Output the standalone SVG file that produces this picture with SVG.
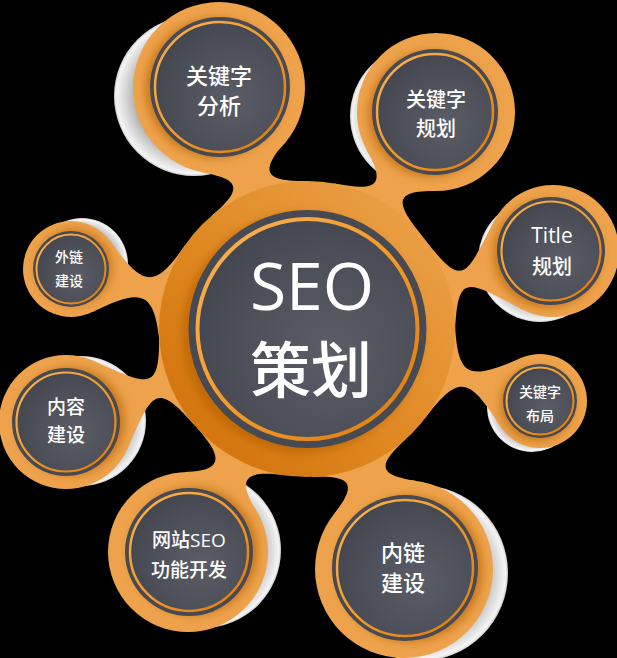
<svg xmlns="http://www.w3.org/2000/svg" width="617" height="658" viewBox="0 0 617 658">
<style>
.o{fill:#eda24b}
.sh{fill:#b25f06;opacity:.6}
.rim{fill:#474a52}
.in{fill:url(#gFill);stroke:url(#gRing)}
.wh{fill:url(#gWhite)}
.neck{fill:#eda24b}
text{fill:#ffffff;font-family:"Open Sans","Noto Sans CJK SC","Noto Sans",sans-serif;text-anchor:middle;font-weight:500}
text.cjk{font-family:"Noto Sans CJK SC","Noto Sans",sans-serif}
</style>
<defs>
<radialGradient id="gFill" cx="0.6" cy="0.6" r="0.65">
<stop offset="0" stop-color="#5a5d66"/>
<stop offset="0.7" stop-color="#4b4e57"/>
<stop offset="1" stop-color="#43464e"/>
</radialGradient>
<linearGradient id="gRing" x1="0" y1="0" x2="1" y2="1">
<stop offset="0" stop-color="#f8b458"/>
<stop offset="0.5" stop-color="#f39a2a"/>
<stop offset="1" stop-color="#dc7a0c"/>
</linearGradient>
<radialGradient id="gWhite" cx="0.5" cy="0.5" r="0.5">
<stop offset="0.6" stop-color="#8a8a8a"/>
<stop offset="0.86" stop-color="#d6d6d6"/>
<stop offset="0.97" stop-color="#f4f4f4"/>
<stop offset="1" stop-color="#cfcfcf"/>
</radialGradient>
<linearGradient id="gBig" x1="0" y1="1" x2="1" y2="0">
<stop offset="0" stop-color="#cf6d05"/>
<stop offset="0.45" stop-color="#df8822"/>
<stop offset="1" stop-color="#eea54f"/>
</linearGradient>
<filter id="soft" x="-20%" y="-20%" width="140%" height="140%">
<feGaussianBlur stdDeviation="4"/>
</filter>
</defs>
<rect width="617" height="658" fill="#000"/>

<g id="shadows">
<circle class="wh" cx="194" cy="96" r="80"/>
<circle class="wh" cx="421" cy="116" r="71"/>
<circle class="wh" cx="540" cy="260" r="62"/>
<circle class="wh" cx="532" cy="407" r="45"/>
<circle class="wh" cx="420" cy="573" r="88"/>
<circle class="wh" cx="203" cy="550" r="78"/>
<circle class="wh" cx="81" cy="421" r="65"/>
<circle class="wh" cx="82" cy="264" r="46"/>
</g>

<g id="connectors">
<path class="neck" transform="translate(307 329) rotate(-110.3)" d="M139.1,-50.6 C152.6,-13.4 162.6,-8.7 182.4,-43 L256.9,0 L182.4,43 C162.6,8.7 152.6,13.4 139.1,50.6 L0,0 Z"/>
<path class="neck" transform="translate(307 329) rotate(-59.3)" d="M139.1,-50.6 C153.3,-11.7 163.3,-3.6 184,-39.5 L252.4,0 L184,39.5 C163.3,3.6 153.3,11.7 139.1,50.6 L0,0 Z"/>
<path class="neck" transform="translate(307 329) rotate(-17.6)" d="M139.1,-50.6 C161.1,9.7 166,-1.3 211.4,-46.7 L258.1,0 L211.4,46.7 C166,1.3 161.1,-9.7 139.1,50.6 L0,0 Z"/>
<path class="neck" transform="translate(307 329) rotate(17.2)" d="M139.1,-50.6 C158.9,3.7 169.4,1.2 213.7,-36 L243.9,0 L213.7,36 C169.4,-1.2 158.9,-3.7 139.1,50.6 L0,0 Z"/>
<path class="neck" transform="translate(307 329) rotate(68)" d="M139.1,-50.6 C152.5,-13.8 162.2,-10.6 181.8,-44.5 L258.9,0 L181.8,44.5 C162.2,10.6 152.5,13.8 139.1,50.6 L0,0 Z"/>
<path class="neck" transform="translate(307 329) rotate(118.1)" d="M139.1,-50.6 C152.4,-14.1 164.1,-6.4 183.5,-40 L252.8,0 L183.5,40 C164.1,6.4 152.4,14.1 139.1,50.6 L0,0 Z"/>
<path class="neck" transform="translate(307 329) rotate(158.9)" d="M139.1,-50.6 C160.1,7.2 167.4,-3.9 210.9,-47.4 L258.3,0 L210.9,47.4 C167.4,3.9 160.1,-7.2 139.1,50.6 L0,0 Z"/>
<path class="neck" transform="translate(307 329) rotate(-165.7)" d="M139.1,-50.6 C157.9,1.1 170.5,-1.4 212.6,-36.8 L243.5,0 L212.6,36.8 C170.5,1.4 157.9,-1.1 139.1,50.6 L0,0 Z"/>
</g>

<g id="center">
<circle cx="307" cy="329" r="148" fill="url(#gBig)"/>
<circle class="sh" cx="302" cy="333" r="120" filter="url(#soft)"/>
<circle class="rim" cx="307.5" cy="329" r="119"/>
<circle class="in" cx="307.5" cy="329" r="110" stroke-width="4"/>
<text x="312" y="310" font-size="66">SEO</text>
<text class="cjk" x="311" y="393" font-size="61">策划</text>
</g>

<g id="n-keyword-analysis">
<circle class="o" cx="219" cy="88" r="86"/>
<circle class="sh" cx="215" cy="88" r="70" filter="url(#soft)"/>
<circle class="rim" cx="220" cy="87" r="70"/>
<circle class="in" cx="220" cy="87" r="65" stroke-width="2.5"/>
<text x="219" y="83.5" font-size="22">关键字</text>
<text x="219" y="113.5" font-size="22">分析</text>
</g>

<g id="n-keyword-plan">
<circle class="o" cx="436" cy="112" r="79"/>
<circle class="sh" cx="431" cy="114" r="63" filter="url(#soft)"/>
<circle class="rim" cx="435" cy="112" r="63"/>
<circle class="in" cx="435" cy="112" r="58" stroke-width="2.5"/>
<text x="436" y="106.5" font-size="20">关键字</text>
<text x="436" y="135.5" font-size="20">规划</text>
</g>

<g id="n-title">
<circle class="o" cx="553" cy="251" r="66"/>
<circle class="sh" cx="547" cy="254" r="54" filter="url(#soft)"/>
<circle class="rim" cx="551" cy="251" r="54"/>
<circle class="in" cx="551" cy="251" r="49.5" stroke-width="2.2"/>
<text x="552" y="243" font-size="21">Title</text>
<text x="552" y="273.5" font-size="20">规划</text>
</g>

<g id="n-keyword-layout">
<circle class="o" cx="540" cy="401" r="47"/>
<circle class="sh" cx="537" cy="404" r="37" filter="url(#soft)"/>
<circle class="rim" cx="540" cy="401" r="37"/>
<circle class="in" cx="540" cy="401" r="33.5" stroke-width="2"/>
<text x="540" y="397" font-size="14">关键字</text>
<text x="540" y="421" font-size="14">布局</text>
</g>

<g id="n-internal-links">
<circle class="o" cx="404" cy="569" r="89"/>
<circle class="sh" cx="410" cy="569" r="73" filter="url(#soft)"/>
<circle class="rim" cx="405" cy="568" r="73"/>
<circle class="in" cx="405" cy="568" r="68" stroke-width="2.5"/>
<text x="403" y="560.5" font-size="22">内链</text>
<text x="403" y="590.5" font-size="22">建设</text>
</g>

<g id="n-site-seo">
<circle class="o" cx="188" cy="552" r="80"/>
<circle class="sh" cx="194" cy="551" r="64" filter="url(#soft)"/>
<circle class="rim" cx="189" cy="552" r="64"/>
<circle class="in" cx="189" cy="552" r="59" stroke-width="2.5"/>
<text x="189" y="547" font-size="19">网站SEO</text>
<text x="189" y="577" font-size="19">功能开发</text>
</g>

<g id="n-content">
<circle class="o" cx="66" cy="422" r="67"/>
<circle class="sh" cx="71" cy="421" r="54" filter="url(#soft)"/>
<circle class="rim" cx="66" cy="422" r="54"/>
<circle class="in" cx="66" cy="422" r="49.5" stroke-width="2.2"/>
<text x="66" y="413.5" font-size="19">内容</text>
<text x="66" y="441.5" font-size="19">建设</text>
</g>

<g id="n-external-links">
<circle class="o" cx="71" cy="269" r="48"/>
<circle class="sh" cx="74" cy="267" r="38" filter="url(#soft)"/>
<circle class="rim" cx="71" cy="269" r="38"/>
<circle class="in" cx="71" cy="269" r="34.5" stroke-width="2"/>
<text x="69" y="262" font-size="14">外链</text>
<text x="69" y="286" font-size="14">建设</text>
</g>
</svg>
